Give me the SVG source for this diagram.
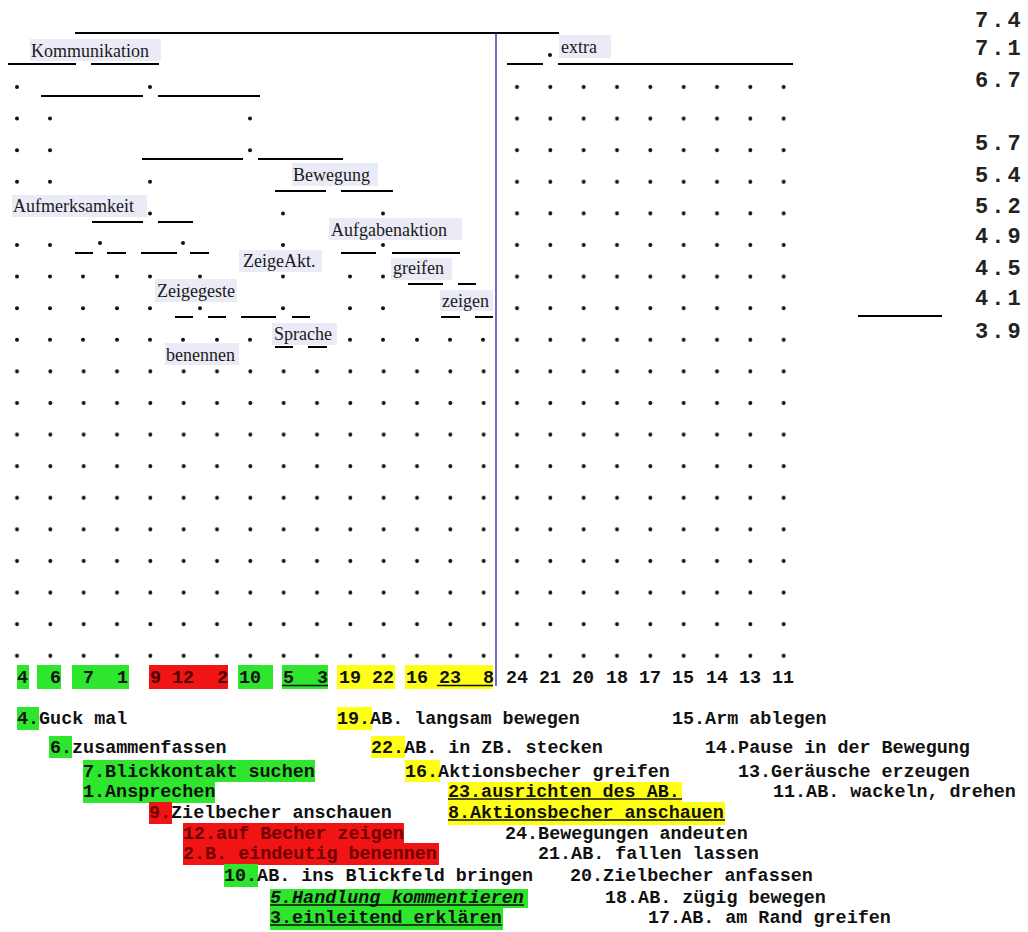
<svg xmlns="http://www.w3.org/2000/svg" xmlns:xlink="http://www.w3.org/1999/xlink" width="1028" height="932" viewBox="0 0 1028 932">
  <style>
    .ln{stroke:#000;stroke-width:2;fill:none}
    .axis{stroke:#2e2ea8;stroke-width:1.4}
    .lbl rect{fill:#ebebf7}
    .lbl text{font-family:'Liberation Serif','Times New Roman',serif;font-size:18px;fill:#1a1a1a}
    .mono{font-family:'Liberation Mono','Courier New',monospace;font-weight:bold;font-size:18.4px;fill:#111}
    .num{font-family:'Liberation Mono','Courier New',monospace;font-weight:bold;font-size:18.4px;fill:#111;text-anchor:end}
    .lvl{font-family:'Liberation Mono','Courier New',monospace;font-weight:bold;font-size:22px;letter-spacing:3px;fill:#222}
    .g{fill:#2ee62e}
    .r{fill:#f01414}
    .y{fill:#ffff14}
    .dr{fill:#700000}
    .ul{stroke:#111;stroke-width:1.4}
  </style>
  <defs>
    <circle id="dot" r="2" fill="#111"/>
    <pattern id="dotgrid" patternUnits="userSpaceOnUse" x="0" y="0" width="33.3333" height="31.6">
      <circle cx="17" cy="23.8" r="2" fill="#111"/>
    </pattern>
  </defs>

  <rect width="1028" height="932" fill="#fff"/>

  <!-- dot grid: full rows below, right-hand block above -->
  <g id="grid">
    <rect x="0" y="356" width="800" height="310" fill="url(#dotgrid)"/>
    <rect x="500" y="70" width="300" height="285" fill="url(#dotgrid)"/>
    <use href="#dot" x="550" y="55"/>
    <!-- partial rows on the left -->
    <use href="#dot" x="17" y="87"/><use href="#dot" x="150" y="87"/>
    <use href="#dot" x="17" y="118.6"/><use href="#dot" x="50" y="118.6"/><use href="#dot" x="250" y="118.6"/>
    <use href="#dot" x="17" y="150.2"/><use href="#dot" x="50" y="150.2"/><use href="#dot" x="250" y="150.2"/>
    <use href="#dot" x="17" y="181.8"/><use href="#dot" x="50" y="181.8"/><use href="#dot" x="150" y="181.8"/>
    <use href="#dot" x="150" y="213.4"/><use href="#dot" x="283" y="213.4"/><use href="#dot" x="383" y="213.4"/>
    <use href="#dot" x="17" y="245"/><use href="#dot" x="50" y="245"/><use href="#dot" x="100" y="243"/><use href="#dot" x="183" y="243"/><use href="#dot" x="283" y="245"/><use href="#dot" x="383" y="245"/>
    <use href="#dot" x="17" y="276.6"/><use href="#dot" x="50" y="276.6"/><use href="#dot" x="83" y="276.6"/><use href="#dot" x="117" y="276.6"/><use href="#dot" x="150" y="276.6"/><use href="#dot" x="200" y="276.6"/><use href="#dot" x="283" y="276.6"/><use href="#dot" x="350" y="276.6"/><use href="#dot" x="383" y="276.6"/><use href="#dot" x="450" y="276.6"/>
    <use href="#dot" x="17" y="308.2"/><use href="#dot" x="50" y="308.2"/><use href="#dot" x="83" y="308.2"/><use href="#dot" x="117" y="308.2"/><use href="#dot" x="150" y="308.2"/><use href="#dot" x="200" y="308.2"/><use href="#dot" x="283" y="308.2"/><use href="#dot" x="350" y="308.2"/><use href="#dot" x="383" y="308.2"/><use href="#dot" x="450" y="308.2"/>
    <use href="#dot" x="17" y="339.8"/><use href="#dot" x="50" y="339.8"/><use href="#dot" x="83" y="339.8"/><use href="#dot" x="117" y="339.8"/><use href="#dot" x="150" y="339.8"/><use href="#dot" x="183" y="339.8"/><use href="#dot" x="217" y="339.8"/><use href="#dot" x="250" y="339.8"/><use href="#dot" x="350" y="339.8"/><use href="#dot" x="383" y="339.8"/><use href="#dot" x="417" y="339.8"/><use href="#dot" x="450" y="339.8"/><use href="#dot" x="483" y="339.8"/>
  </g>

  <!-- cluster joins -->
  <g id="links">
    <path class="ln" d="M75 33H559
      M8 64H76 M91 64H159 M507 64H543 M558 64H793
      M41 96H143 M158 96H260
      M142 159H243 M258 159H343
      M275 191H326 M341 191H393
      M92 222H143 M158 222H193
      M75 253H93 M107 253H126 M141 253H177 M190 253H209 M341 253H376 M392 253H460
      M408 284H443 M458 284H476
      M175 317H193 M208 317H226 M241 317H276 M292 317H310 M441 317H460 M475 317H493 M858 316H942
      M275 347H293 M308 347H327"/>
    <line class="axis" x1="496" y1="33" x2="496" y2="686"/>
  </g>

  <!-- cluster names -->
  <g id="node-kommunikation" class="lbl"><rect x="30" y="39" width="131" height="22"/><text x="31" y="57">Kommunikation</text></g>
  <g id="node-extra" class="lbl"><rect x="559" y="35" width="52" height="23"/><text x="561" y="53">extra</text></g>
  <g id="node-bewegung" class="lbl"><rect x="292" y="163" width="86" height="23"/><text x="293" y="181">Bewegung</text></g>
  <g id="node-aufmerksamkeit" class="lbl"><rect x="12" y="195" width="135" height="22"/><text x="13" y="212">Aufmerksamkeit</text></g>
  <g id="node-aufgabenaktion" class="lbl"><rect x="329" y="218" width="133" height="22"/><text x="331" y="236">Aufgabenaktion</text></g>
  <g id="node-zeigeakt" class="lbl"><rect x="239" y="250" width="83" height="22"/><text x="243" y="267">ZeigeAkt.</text></g>
  <g id="node-greifen" class="lbl"><rect x="391" y="258" width="61" height="22"/><text x="393" y="274">greifen</text></g>
  <g id="node-zeigegeste" class="lbl"><rect x="155" y="279" width="82" height="23"/><text x="157" y="297">Zeigegeste</text></g>
  <g id="node-zeigen" class="lbl"><rect x="440" y="290" width="53" height="21"/><text x="442" y="307">zeigen</text></g>
  <g id="node-sprache" class="lbl"><rect x="272" y="323" width="65" height="22"/><text x="274" y="340">Sprache</text></g>
  <g id="node-benennen" class="lbl"><rect x="165" y="343" width="74" height="22"/><text x="166" y="361">benennen</text></g>

  <!-- level scale -->
  <g id="levels" class="lvl">
    <text x="975" y="27">7.4</text>
    <text x="975" y="55">7.1</text>
    <text x="975" y="87">6.7</text>
    <text x="975" y="150">5.7</text>
    <text x="975" y="182">5.4</text>
    <text x="975" y="213">5.2</text>
    <text x="975" y="243">4.9</text>
    <text x="975" y="275">4.5</text>
    <text x="975" y="305">4.1</text>
    <text x="975" y="338">3.9</text>
  </g>

  <!-- leaf numbers -->
  <g id="leaves">
    <rect class="g" x="17" y="665" width="12" height="24"/>
    <rect class="g" x="37" y="665" width="24" height="24"/>
    <rect class="g" x="72" y="665" width="57" height="24"/>
    <rect class="r" x="149" y="665" width="79" height="24"/>
    <rect class="g" x="238" y="665" width="35" height="24"/>
    <rect class="g" x="282" y="665" width="46" height="24"/>
    <rect class="y" x="337" y="665" width="58" height="24"/>
    <rect class="y" x="405" y="665" width="88" height="24"/>
    <g class="num">
      <text x="28" y="683">4</text>
      <text x="61" y="683">6</text>
      <text x="94" y="683">7</text>
      <text x="128" y="683">1</text>
      <text x="161" y="683" fill="#4a0000">9</text>
      <text x="194" y="683" fill="#4a0000">12</text>
      <text x="228" y="683" fill="#4a0000">2</text>
      <text x="261" y="683">10</text>
      <text x="294" y="683">5</text>
      <text x="328" y="683">3</text>
      <text x="361" y="683">19</text>
      <text x="394" y="683">22</text>
      <text x="428" y="683">16</text>
      <text x="461" y="683">23</text>
      <text x="494" y="683">8</text>
      <text x="528" y="683">24</text>
      <text x="561" y="683">21</text>
      <text x="594" y="683">20</text>
      <text x="628" y="683">18</text>
      <text x="661" y="683">17</text>
      <text x="694" y="683">15</text>
      <text x="728" y="683">14</text>
      <text x="761" y="683">13</text>
      <text x="794" y="683">11</text>
    </g>
    <line class="ul" x1="282" y1="685.5" x2="328" y2="685.5"/>
    <line class="ul" x1="437" y1="685.5" x2="493" y2="685.5"/>
  </g>

  <!-- legend -->
  <g id="legend">
    <rect class="g" x="17" y="707" width="22" height="23"/>
    <rect class="g" x="49" y="736" width="23" height="22"/>
    <rect class="g" x="83" y="760" width="232" height="22"/>
    <rect class="g" x="83" y="782" width="132" height="21"/>
    <rect class="r" x="149" y="802" width="23" height="22"/>
    <rect class="r" x="183" y="823" width="221" height="20"/>
    <rect class="r" x="183" y="843" width="256" height="22"/>
    <rect class="g" x="224" y="864" width="34" height="23"/>
    <rect class="g" x="270" y="889" width="258" height="19"/>
    <rect class="g" x="270" y="908" width="233" height="22"/>
    <rect class="y" x="337" y="707" width="35" height="23"/>
    <rect class="y" x="371" y="736" width="34" height="22"/>
    <rect class="y" x="405" y="760" width="35" height="22"/>
    <rect class="y" x="448" y="782" width="234" height="20"/>
    <rect class="y" x="448" y="802" width="277" height="23"/>
    <g class="mono">
      <text x="17" y="724">4.Guck mal</text>
      <text x="50" y="753">6.zusammenfassen</text>
      <text x="83" y="777">7.Blickkontakt suchen</text>
      <text x="83" y="797">1.Ansprechen</text>
      <text x="149" y="818"><tspan class="dr">9.</tspan>Zielbecher anschauen</text>
      <text x="183" y="839" class="dr">12.auf Becher zeigen</text>
      <text x="183" y="859" class="dr">2.B. eindeutig benennen</text>
      <text x="224" y="881">10.AB. ins Blickfeld bringen</text>
      <text x="270" y="903" font-style="italic">5.Handlung kommentieren</text>
      <text x="270" y="923">3.einleitend erklären</text>
      <text x="337" y="724">19.AB. langsam bewegen</text>
      <text x="371" y="753">22.AB. in ZB. stecken</text>
      <text x="405" y="777">16.Aktionsbecher greifen</text>
      <text x="448" y="797">23.ausrichten des AB.</text>
      <text x="448" y="818">8.Aktionsbecher anschauen</text>
      <text x="505" y="839">24.Bewegungen andeuten</text>
      <text x="538" y="859">21.AB. fallen lassen</text>
      <text x="570" y="881">20.Zielbecher anfassen</text>
      <text x="605" y="903">18.AB. zügig bewegen</text>
      <text x="648" y="923">17.AB. am Rand greifen</text>
      <text x="672" y="724">15.Arm ablegen</text>
      <text x="705" y="753">14.Pause in der Bewegung</text>
      <text x="738" y="777">13.Geräusche erzeugen</text>
      <text x="773" y="797">11.AB. wackeln, drehen</text>
    </g>
    <line class="ul" x1="448" y1="799" x2="682" y2="799"/>
    <line class="ul" x1="448" y1="820" x2="725" y2="820"/>
    <line class="ul" x1="270" y1="905" x2="524" y2="905"/>
    <line class="ul" x1="270" y1="925" x2="502" y2="925"/>
  </g>
</svg>
